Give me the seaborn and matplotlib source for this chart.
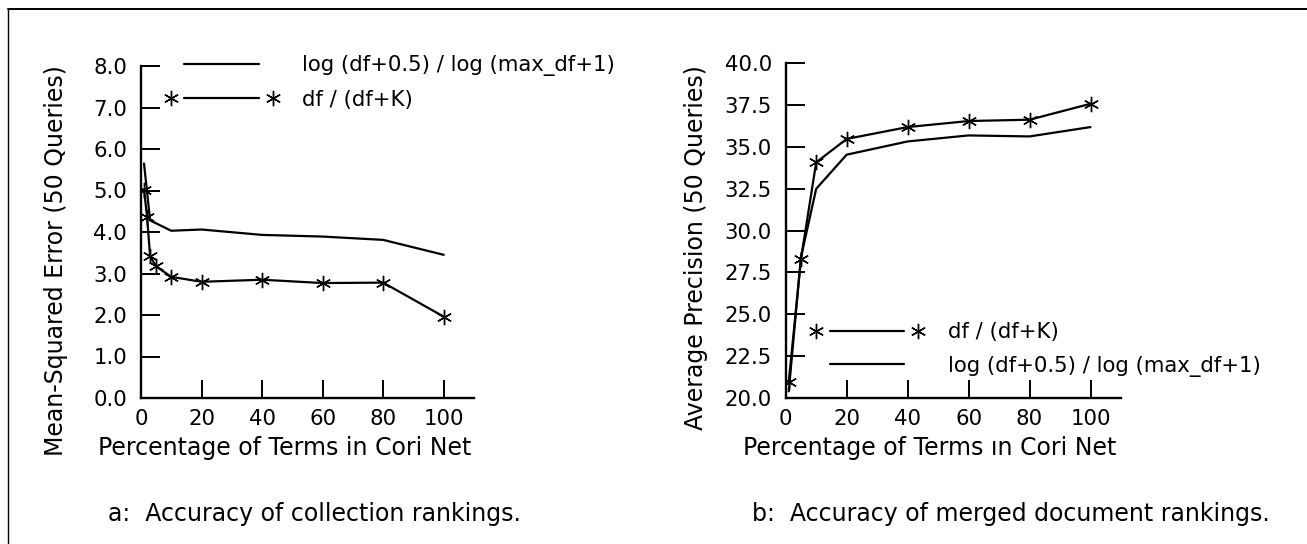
import matplotlib
matplotlib.use("Agg")
import matplotlib.pyplot as plt
import seaborn as sns
import pandas as pd
from matplotlib.lines import Line2D
from matplotlib.legend_handler import HandlerBase

# ---- data ----
a_log_x = [1, 3, 10, 20, 40, 60, 80, 100]
a_log_y = [5.65, 4.28, 4.03, 4.06, 3.93, 3.89, 3.81, 3.45]
a_dfk_x = [1, 2, 3, 5, 10, 20, 40, 60, 80, 100]
a_dfk_y = [5.02, 4.37, 3.42, 3.17, 2.92, 2.80, 2.85, 2.77, 2.78, 1.96]

b_dfk_x = [1, 5, 10, 20, 40, 60, 80, 100]
b_dfk_y = [20.95, 28.3, 34.08, 35.48, 36.19, 36.55, 36.63, 37.58]
b_log_x = [1, 5, 10, 20, 40, 60, 80, 100]
b_log_y = [20.4, 28.4, 32.5, 34.54, 35.33, 35.69, 35.63, 36.19]

label_log = "log (df+0.5) / log (max_df+1)"
label_dfk = "df / (df+K)"
xlabel_a = "Percentage of Terms in Cori Net"
xlabel_b = "Percentage of Terms \u0131n Cori Net"
ylabel_a = "Mean-Squared Error (50 Queries)"
ylabel_b = "Average Precision (50 Queries)"
caption_a = "a:  Accuracy of collection rankings."
caption_b = "b:  Accuracy of merged document rankings."
x_ticks = [0, 20, 40, 60, 80, 100]
a_yticks = [0, 1, 2, 3, 4, 5, 6, 7, 8]
b_yticks = [20.0, 22.5, 25.0, 27.5, 30.0, 32.5, 35.0, 37.5, 40.0]

sns.set_theme(style="white")
plt.rcParams["font.family"] = ["DejaVu Sans"]
plt.rcParams["text.color"] = "black"
plt.rcParams["axes.labelcolor"] = "black"
plt.rcParams["xtick.color"] = "black"
plt.rcParams["ytick.color"] = "black"

W, H = 1307, 544
fig = plt.figure(figsize=(W / 100, H / 100), dpi=100)
fig.patch.set_facecolor("white")

def fx(px):
    return px / W

def fy(py):
    return 1 - py / H

ax_a = fig.add_axes([fx(141), fy(398), (474 - 141) / W, (398 - 66) / H])
ax_b = fig.add_axes([fx(785.7), fy(398), (1121 - 785.7) / W, (398 - 63.3) / H])

STAR = (6, 2, 0)
line_kw = dict(color="black", linewidth=1.6, errorbar=None, legend=False)
mark_kw = dict(marker=STAR, markersize=11, markeredgecolor="black",
               markeredgewidth=1.0)

df_a_log = pd.DataFrame({"x": a_log_x, "y": a_log_y})
df_a_dfk = pd.DataFrame({"x": a_dfk_x, "y": a_dfk_y})
df_b_log = pd.DataFrame({"x": b_log_x, "y": b_log_y})
df_b_dfk = pd.DataFrame({"x": b_dfk_x, "y": b_dfk_y})

sns.lineplot(data=df_a_log, x="x", y="y", ax=ax_a, **line_kw)
sns.lineplot(data=df_a_dfk, x="x", y="y", ax=ax_a, **line_kw, **mark_kw)
sns.lineplot(data=df_b_dfk, x="x", y="y", ax=ax_b, **line_kw, **mark_kw)
sns.lineplot(data=df_b_log, x="x", y="y", ax=ax_b, **line_kw)


class GapLineHandler(HandlerBase):
    """Line segment with its markers placed beyond both ends."""
    def create_artists(self, legend, orig_handle, xdescent, ydescent,
                       width, height, fontsize, trans):
        y = height / 2.0 - ydescent
        x0 = -xdescent
        gap = 0.135 * width
        seg = Line2D([x0 + gap, x0 + width - gap], [y, y],
                     color=orig_handle.get_color(),
                     linewidth=orig_handle.get_linewidth())
        seg.set_transform(trans)
        arts = [seg]
        mk = orig_handle.get_marker()
        if mk not in (None, "", "None", "none"):
            m = Line2D([x0, x0 + width], [y, y], linestyle="none",
                       marker=mk, markersize=orig_handle.get_markersize(),
                       markeredgecolor=orig_handle.get_markeredgecolor(),
                       markeredgewidth=orig_handle.get_markeredgewidth())
            m.set_transform(trans)
            arts.append(m)
        return arts


FS_TICK = 15.3
FS_LABEL = 17

leg_kw = dict(frameon=False, fontsize=FS_TICK, handlelength=4.8,
              handletextpad=1.4, labelspacing=0.62, borderpad=0,
              borderaxespad=0, loc="upper left", labelcolor="black",
              bbox_transform=fig.transFigure,
              handler_map={Line2D: GapLineHandler()})

la = ax_a.get_lines()
ax_a.legend([la[0], la[1]], [label_log, label_dfk],
            bbox_to_anchor=(fx(170.7), fy(55.5)), **leg_kw)
lb = ax_b.get_lines()
ax_b.legend([lb[0], lb[1]], [label_dfk, label_log],
            bbox_to_anchor=(fx(816), fy(322.5)), **leg_kw)

for ax, ylim, yt, fmt in ((ax_a, (0, 8), a_yticks, "{:.1f}"),
                          (ax_b, (20, 40), b_yticks, "{:.1f}")):
    ax.set_xlim(0, 110)
    ax.set_ylim(*ylim)
    ax.set_xticks(x_ticks)
    ax.set_xticklabels([str(t) for t in x_ticks])
    ax.set_yticks(yt)
    ax.set_yticklabels([fmt.format(t) for t in yt])
    sns.despine(ax=ax)
    for s in ("left", "bottom"):
        ax.spines[s].set_linewidth(1.7)
        ax.spines[s].set_color("black")
    ax.tick_params(axis="y", direction="in", length=14, width=1.4,
                   pad=10, labelsize=FS_TICK, colors="black", left=True)
    ax.tick_params(axis="x", direction="in", length=13, width=1.4,
                   pad=8, labelsize=FS_TICK, colors="black", bottom=True)
    ax.set_facecolor("white")
    ax.grid(False)

ax_a.set_xlabel(xlabel_a, fontsize=FS_LABEL, color="black", va="center")
ax_a.xaxis.set_label_coords(0.432, -0.152)
ax_a.set_ylabel(ylabel_a, fontsize=FS_LABEL, color="black", va="center")
ax_a.yaxis.set_label_coords(-0.255, 0.413)

ax_b.set_xlabel(xlabel_b, fontsize=FS_LABEL, color="black", va="center")
ax_b.xaxis.set_label_coords(0.430, -0.150)
ax_b.set_ylabel(ylabel_b, fontsize=FS_LABEL, color="black", va="center")
ax_b.yaxis.set_label_coords(-0.2675, 0.448)

fig.text(fx(314), fy(514), caption_a, ha="center", va="center",
         fontsize=FS_LABEL, color="black")
fig.text(fx(1010.5), fy(514), caption_b, ha="center", va="center",
         fontsize=FS_LABEL, color="black")

# page frame (top and left edges)
fig.add_artist(Line2D([fx(8), 1], [fy(9), fy(9)], transform=fig.transFigure,
                      color="black", linewidth=1.4))
fig.add_artist(Line2D([fx(8), fx(8)], [0, fy(9)], transform=fig.transFigure,
                      color="black", linewidth=1.0))

fig.savefig("out.png", dpi=100, facecolor="white")
